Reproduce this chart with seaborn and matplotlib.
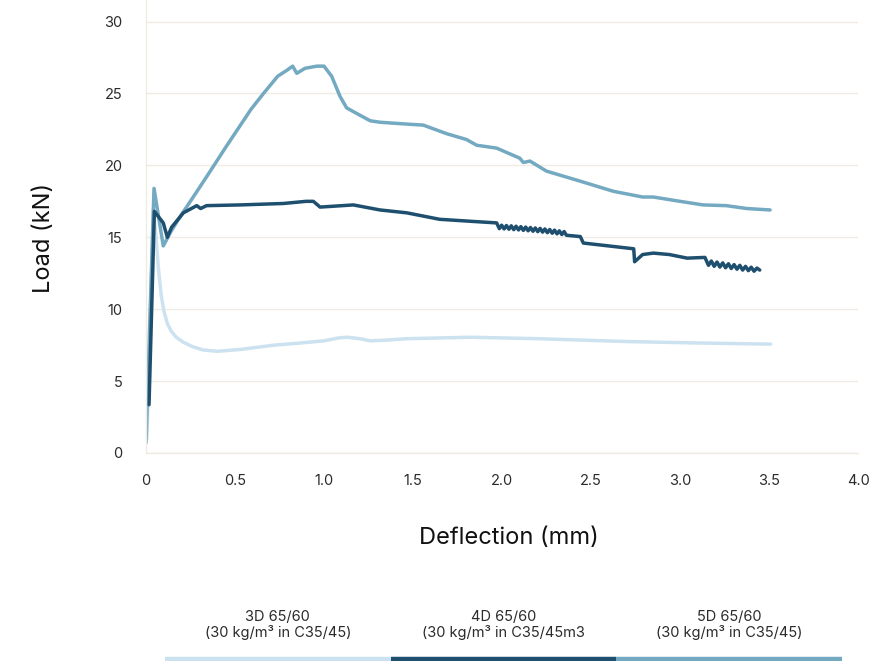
import matplotlib
matplotlib.use("Agg")
import matplotlib.pyplot as plt
import pandas as pd
import numpy as np
import seaborn as sns

# series (deflection mm, load kN)
d3_x = [0.005, 0.02, 0.042, 0.055, 0.07, 0.085, 0.10, 0.12, 0.14, 0.17, 0.21, 0.26,
        0.32, 0.40, 0.53, 0.72, 0.87, 1.0, 1.08, 1.13, 1.20, 1.26, 1.35, 1.47, 1.65,
        1.82, 2.2, 2.7, 3.1, 3.51]
d3_y = [1.0, 8.0, 16.9, 15.2, 12.8, 11.0, 9.9, 9.0, 8.5, 8.05, 7.7, 7.4,
        7.17, 7.07, 7.2, 7.5, 7.65, 7.8, 8.0, 8.05, 7.95, 7.8, 7.85, 7.95, 8.0,
        8.05, 7.95, 7.75, 7.65, 7.57]

d5_x = [0.0, 0.045, 0.097, 0.14, 0.19, 0.26, 0.34, 0.45, 0.52, 0.59, 0.66, 0.70,
        0.74, 0.79, 0.824, 0.847, 0.893, 0.96, 1.0, 1.043, 1.09, 1.127, 1.20, 1.26,
        1.315, 1.43, 1.558, 1.69, 1.80, 1.858, 1.97, 2.10, 2.12, 2.157, 2.25, 2.44,
        2.625, 2.79, 2.85, 3.0, 3.13, 3.26, 3.375, 3.506]
d5_y = [0.7, 18.4, 14.4, 15.4, 16.4, 17.7, 19.2, 21.3, 22.6, 23.9, 25.0, 25.6,
        26.2, 26.6, 26.9, 26.4, 26.75, 26.9, 26.9, 26.2, 24.8, 24.0, 23.5, 23.1,
        23.0, 22.9, 22.8, 22.2, 21.8, 21.4, 21.2, 20.5, 20.2, 20.3, 19.6, 18.9,
        18.2, 17.8, 17.8, 17.5, 17.25, 17.2, 17.0, 16.9]

d4_x = [0.017, 0.047, 0.097, 0.12, 0.144, 0.21, 0.285, 0.307, 0.34, 0.528, 0.771, 0.90,
        0.94, 0.978, 1.165, 1.315, 1.465, 1.65, 1.84, 1.97,
        1.985, 1.998, 2.012, 2.025, 2.039, 2.052, 2.066, 2.079, 2.093, 2.106, 2.120,
        2.133, 2.147, 2.160, 2.174, 2.187, 2.201, 2.214, 2.228, 2.241, 2.255, 2.268,
        2.282, 2.295, 2.309, 2.322, 2.336, 2.349, 2.362,
        2.44, 2.457, 2.74, 2.745, 2.79, 2.85, 2.94, 3.04, 3.14,
        3.160, 3.176, 3.192, 3.208, 3.224, 3.240, 3.256, 3.272, 3.288, 3.304, 3.320,
        3.336, 3.352, 3.368, 3.384, 3.400, 3.416, 3.432, 3.448]
d4_y = [3.36, 16.8, 16.0, 15.0, 15.7, 16.7, 17.2, 17.0, 17.2, 17.25, 17.35, 17.5,
        17.5, 17.1, 17.25, 16.9, 16.7, 16.25, 16.1, 16.0,
        15.60, 15.84, 15.58, 15.82, 15.56, 15.80, 15.53, 15.77, 15.51, 15.74, 15.48,
        15.71, 15.45, 15.68, 15.42, 15.65, 15.39, 15.62, 15.36, 15.58, 15.32, 15.54,
        15.28, 15.50, 15.24, 15.45, 15.19, 15.40, 15.14,
        15.05, 14.6, 14.2, 13.3, 13.8, 13.9, 13.8, 13.55, 13.6,
        13.05, 13.35, 12.98, 13.28, 12.93, 13.22, 12.88, 13.16, 12.83, 13.10, 12.78,
        13.05, 12.72, 12.98, 12.68, 12.92, 12.64, 12.86, 12.72]

series = ["3D", "4D", "5D"]
legend_top = ["3D 65/60", "4D 65/60", "5D 65/60"]
legend_bottom = ["(30 kg/m³ in C35/45)", "(30 kg/m³ in C35/45m3", "(30 kg/m³ in C35/45)"]
colors = {"3D": "#cce2f0", "4D": "#1f4f6e", "5D": "#74a9c2"}

x_ticks = [0, 0.5, 1.0, 1.5, 2.0, 2.5, 3.0, 3.5, 4.0]
x_tick_labels = ["0", "0.5", "1.0", "1.5", "2.0", "2.5", "3.0", "3.5", "4.0"]
y_ticks = [0, 5, 10, 15, 20, 25, 30]

df = pd.concat([
    pd.DataFrame({"Deflection": d3_x, "Load": d3_y, "Product": "3D"}),
    pd.DataFrame({"Deflection": d5_x, "Load": d5_y, "Product": "5D"}),
    pd.DataFrame({"Deflection": d4_x, "Load": d4_y, "Product": "4D"}),
], ignore_index=True)

sns.set_style("white")
plt.rcParams["font.family"] = ["Inter", "DejaVu Sans"]

grid_col = "#f0ebe3"
text_col = "#2b2b2b"

fig = plt.figure(figsize=(8.72, 6.61), dpi=100)
ax = fig.add_axes([146 / 872, 1 - 453 / 661, 712 / 872, 453 / 661])

sns.lineplot(data=df, x="Deflection", y="Load", hue="Product",
             hue_order=["3D", "5D", "4D"], palette=colors, sort=False,
             estimator=None, legend=False, linewidth=2.5, ax=ax)
for ln in ax.get_lines():
    ln.set_solid_joinstyle("round")
    ln.set_solid_capstyle("round")

ax.set_xlim(0, 4.0)
ax.set_ylim(0, 31.5)
ax.set_xticks(x_ticks)
ax.set_xticklabels(x_tick_labels)
ax.set_yticks(y_ticks)
ax.yaxis.grid(True, color=grid_col, linewidth=1)
ax.xaxis.grid(False)
for s in ["top", "right"]:
    ax.spines[s].set_visible(False)
for s in ["left", "bottom"]:
    ax.spines[s].set_color(grid_col)
    ax.spines[s].set_linewidth(1)
ax.tick_params(axis="y", length=0, pad=17, labelsize=10.5, labelcolor=text_col)
ax.tick_params(axis="x", length=7, width=1, color=grid_col, pad=8,
               labelsize=10.5, labelcolor=text_col, direction="out")

ax.set_xlabel("Deflection (mm)", fontsize=17, color="#111111")
ax.set_ylabel("Load (kN)", fontsize=17, color="#111111")
ax.xaxis.set_label_coords(0.51, -0.163)
ax.yaxis.set_label_coords(-0.128, 0.475)

# legend strip below the chart
lg = fig.add_axes([165 / 872, 0, 677 / 872, 70 / 661])
lg.set_xlim(0, 3)
lg.set_ylim(0, 70)
lg.axis("off")
for i, name in enumerate(series):
    lg.hlines(2.5, i, i + 1, colors=colors[name], linewidth=3.2)
    lg.text(i + 0.5, 44, legend_top[i], ha="center", va="center",
            fontsize=10.5, color=text_col)
    lg.text(i + 0.5, 29, legend_bottom[i], ha="center", va="center",
            fontsize=10.5, color=text_col)

fig.savefig("out.png", dpi=100)
